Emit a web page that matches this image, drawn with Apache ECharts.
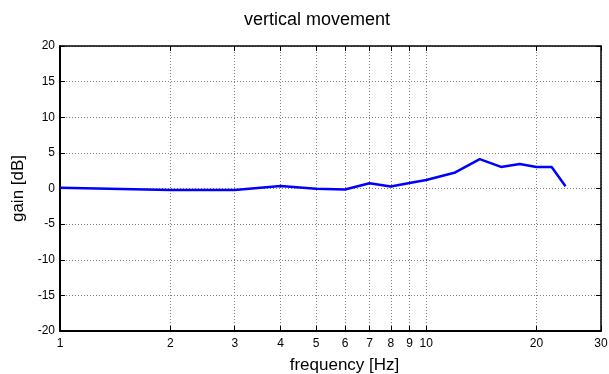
<!DOCTYPE html>
<html>
<head>
<meta charset="utf-8">
<script src="https://cdn.jsdelivr.net/npm/echarts@6/dist/echarts.min.js"></script>
<style>
  html, body { margin: 0; padding: 0; background: #fff; }
  #chart { width: 609px; height: 374px; }
</style>
</head>
<body>
<div id="chart"></div>
<script>
// measured points (frequency in Hz, gain in dB)
const freqs = [1, 2, 3, 4, 5, 6, 7, 8, 9, 10, 12, 14, 16, 18, 20, 22, 24];
const gains = [0.1, -0.2, -0.2, 0.35, -0.05, -0.15, 0.73, 0.28, 0.78, 1.19, 2.25, 4.13, 3.03, 3.44, 3.03, 3.03, 0.32];
const xTicks = [1, 2, 3, 4, 5, 6, 7, 8, 9, 10, 20, 30];
const yTicks = [-20, -15, -10, -5, 0, 5, 10, 15, 20];

const FONT = 'Liberation Sans, Arial, sans-serif';

// x axis is log10(frequency) on a plain value axis, so ticks can sit on 2..9, 20, 30
const xTickPos = xTicks.map(v => Math.log10(v));
const xMax = Math.log10(30);

const chart = echarts.init(document.getElementById('chart'));

const option = {
    animation: false,
    title: {
        text: 'vertical movement',
        left: 312,
        textAlign: 'center',
        top: 6,
        textStyle: { fontFamily: FONT, fontSize: 18, fontWeight: 'normal', color: '#000' }
    },
    grid: { left: 60, right: 8, top: 46, bottom: 43, containLabel: false, outerBoundsMode: 'none' },
    xAxis: [
        {
            type: 'value',
            min: 0,
            max: xMax,
            name: 'frequency [Hz]',
            nameLocation: 'middle',
            nameGap: 26,
            nameTextStyle: { fontFamily: FONT, fontSize: 17, color: '#000', padding: [0, 0, 0, 28] },
            axisLine: { show: true, onZero: false, lineStyle: { color: '#000', width: 2 } },
            axisTick: { show: true, inside: true, length: 5, customValues: xTickPos, lineStyle: { color: '#000' } },
            axisLabel: {
                customValues: xTickPos,
                margin: 7,
                fontFamily: FONT,
                fontSize: 12,
                color: '#000',
                formatter: v => String(Math.round(Math.pow(10, v)))
            },
            splitLine: { show: true, lineStyle: { color: '#808080', type: [1, 2], width: 1 } }
        },
        {
            type: 'value',
            position: 'top',
            min: 0,
            max: xMax,
            axisLine: { show: true, onZero: false, lineStyle: { color: '#000', width: 1.5 } },
            axisTick: { show: true, inside: true, length: 5, customValues: xTickPos, lineStyle: { color: '#000' } },
            axisLabel: { show: false },
            splitLine: { show: false }
        }
    ],
    yAxis: [
        {
            type: 'value',
            min: yTicks[0],
            max: yTicks[yTicks.length - 1],
            interval: 5,
            name: 'gain [dB]',
            nameLocation: 'middle',
            nameGap: 29,
            nameTextStyle: { fontFamily: FONT, fontSize: 17, color: '#000' },
            axisLine: { show: true, onZero: false, lineStyle: { color: '#000', width: 2 } },
            axisTick: { show: true, inside: true, length: 5, lineStyle: { color: '#000' } },
            axisLabel: { margin: 5, fontFamily: FONT, fontSize: 12, color: '#000' },
            splitLine: { show: true, lineStyle: { color: '#808080', type: [1, 2], width: 1 } }
        },
        {
            type: 'value',
            position: 'right',
            min: yTicks[0],
            max: yTicks[yTicks.length - 1],
            interval: 5,
            axisLine: { show: true, onZero: false, lineStyle: { color: '#000', width: 1.5 } },
            axisTick: { show: true, inside: true, length: 5, lineStyle: { color: '#000' } },
            axisLabel: { show: false },
            splitLine: { show: false }
        }
    ],
    series: [
        {
            type: 'line',
            data: freqs.map((f, i) => [Math.log10(f), gains[i]]),
            symbol: 'none',
            lineStyle: { color: '#0000ff', width: 2.5 },
            z: 5
        }
    ]
};

chart.setOption(option);
</script>
</body>
</html>
